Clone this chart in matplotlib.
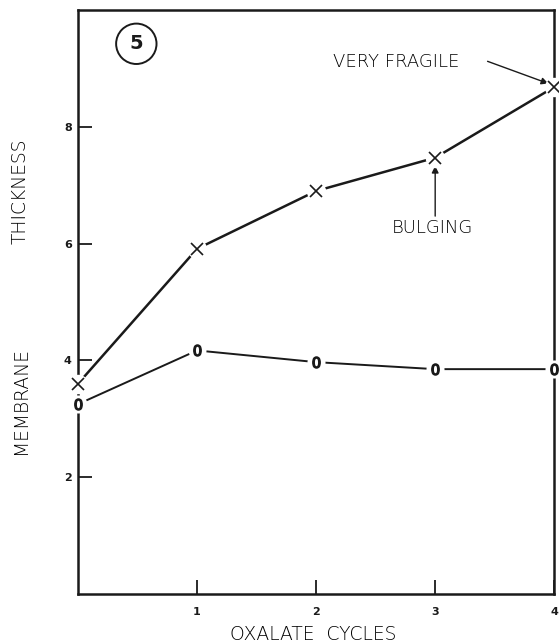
import matplotlib
matplotlib.use("Agg")
import matplotlib.pyplot as plt

# oxalate cycles vs membrane thickness
cycles = [0, 1, 2, 3, 4]
thick_x = [3.60, 5.91, 6.90, 7.47, 8.68]   # "X" curve
thick_o = [3.25, 4.17, 3.97, 3.85, 3.85]   # "O" curve
xticks = [1, 2, 3, 4]
yticks = [2, 4, 6, 8]

fig = plt.figure(figsize=(5.59, 6.44), dpi=100)
ax = fig.add_axes([0.1395, 0.0776, 0.852, 0.907])

ink = "#1a1a1a"

ax.plot(cycles, thick_x, color=ink, lw=1.8, zorder=2)
ax.plot(cycles, thick_o, color=ink, lw=1.4, zorder=2)
# white halos to break line and spine around the symbols
ax.plot(cycles, thick_x, ls="none", marker="o", ms=14, mfc="white", mec="none",
        zorder=5, clip_on=False)
ax.plot(cycles, thick_o, ls="none", marker="o", ms=13, mfc="white", mec="none",
        zorder=5, clip_on=False)
ax.plot(cycles, thick_x, ls="none", marker="x", ms=9, mew=1.2, color=ink,
        zorder=6, clip_on=False)
ax.plot(cycles, thick_o, ls="none", marker=r"$0$", ms=8, color=ink,
        zorder=6, clip_on=False)

ax.set_xlim(0, 4)
ax.set_ylim(0, 10)
ax.set_xticks(xticks)
ax.set_yticks(yticks)
ax.tick_params(direction="in", length=10, width=1.3, color=ink, labelsize=8,
               labelcolor=ink)
ax.tick_params(axis="x", pad=9)
ax.tick_params(axis="y", pad=4.5)
for lab in ax.get_xticklabels() + ax.get_yticklabels():
    lab.set_fontweight("bold")
for s in ax.spines.values():
    s.set_linewidth(1.8)
    s.set_color(ink)

lab_kw = dict(fontsize=13.5, color="black", family="DejaVu Sans",
              fontweight="light")
fig.text(20.5 / 559, 1 - 191 / 644, "THICKNESS", rotation=90, ha="center",
         va="center", **lab_kw)
fig.text(20.5 / 559, 1 - 401 / 644, "MEMBRANE", rotation=90, ha="center",
         va="center", **lab_kw)
fig.text(313 / 559, 1 - 635 / 644, "OXALATE  CYCLES", ha="center", va="center",
         **lab_kw)

ax.text(0.49, 9.42, "5", ha="center", va="center", fontsize=14,
        fontweight="bold", color=ink,
        bbox=dict(boxstyle="circle,pad=0.55", fc="white", ec=ink, lw=1.4))

note_kw = dict(fontsize=13, color="black", family="DejaVu Sans",
               fontweight="light")
ax.text(2.67, 9.11, "VERY FRAGILE", ha="center", va="center", **note_kw)
ax.annotate("", xy=(3.95, 8.74), xytext=(3.44, 9.12),
            arrowprops=dict(arrowstyle="-|>", color=ink, lw=1.0,
                            mutation_scale=10, shrinkA=0, shrinkB=0))
ax.text(2.98, 6.26, "BULGING", ha="center", va="center", **note_kw)
ax.annotate("", xy=(3.0, 7.33), xytext=(3.0, 6.47),
            arrowprops=dict(arrowstyle="-|>", color=ink, lw=1.0,
                            mutation_scale=10, shrinkA=0, shrinkB=0))

fig.savefig("out.png", dpi=100)
